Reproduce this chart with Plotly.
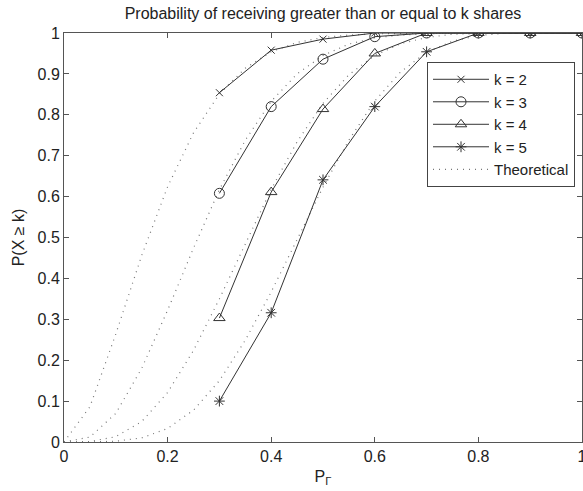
import plotly.graph_objects as go

# Simulated points
x_sim = [0.3, 0.4, 0.5, 0.6, 0.7, 0.8, 0.9, 1.0]
k2_sim = [0.854, 0.958, 0.985, 1.0, 1.0, 1.0, 1.0, 1.0]
k3_sim = [0.608, 0.820, 0.936, 0.991, 1.0, 1.0, 1.0, 1.0]
k4_sim = [0.303, 0.611, 0.814, 0.950, 1.0, 1.0, 1.0, 1.0]
k5_sim = [0.100, 0.316, 0.641, 0.820, 0.954, 1.0, 1.0, 1.0]

# Theoretical curves (dotted)
x_th = [0.0, 0.05, 0.1, 0.15, 0.2, 0.25, 0.3, 0.35, 0.4, 0.45, 0.5,
        0.55, 0.6, 0.65, 0.7, 0.75, 0.8, 0.85, 0.9, 0.95, 1.0]
k2_th = [0.0, 0.086, 0.264, 0.456, 0.624, 0.756, 0.851, 0.914, 0.954, 0.977, 0.989,
         0.995, 0.998, 0.999, 1.0, 1.0, 1.0, 1.0, 1.0, 1.0, 1.0]
k3_th = [0.0, 0.012, 0.070, 0.180, 0.322, 0.474, 0.617, 0.738, 0.833, 0.900, 0.945,
         0.973, 0.988, 0.995, 0.998, 1.0, 1.0, 1.0, 1.0, 1.0, 1.0]
k4_th = [0.0, 0.001, 0.013, 0.050, 0.121, 0.224, 0.350, 0.486, 0.618, 0.734, 0.828,
         0.898, 0.945, 0.974, 0.989, 0.997, 0.999, 1.0, 1.0, 1.0, 1.0]
k5_th = [0.0, 0.0, 0.002, 0.010, 0.033, 0.078, 0.150, 0.249, 0.367, 0.496, 0.623,
         0.738, 0.834, 0.905, 0.953, 0.980, 0.994, 0.999, 1.0, 1.0, 1.0]

labels = ["k = 2", "k = 3", "k = 4", "k = 5"]
x_ticks = [0, 0.2, 0.4, 0.6, 0.8, 1]
x_ticklabels = ["0", "0.2", "0.4", "0.6", "0.8", "1"]
y_ticks = [0, 0.1, 0.2, 0.3, 0.4, 0.5, 0.6, 0.7, 0.8, 0.9, 1]
y_ticklabels = ["0", "0.1", "0.2", "0.3", "0.4", "0.5", "0.6", "0.7", "0.8", "0.9", "1"]

FONT = "Liberation Sans, Arial, sans-serif"
LINE = "#333333"
AX = "#555555"
TXT = "#222222"

fig = go.Figure()

theory = [k2_th, k3_th, k4_th, k5_th]
for i, yv in enumerate(theory):
    fig.add_trace(go.Scatter(
        x=x_th, y=yv, mode="lines", name="Theoretical",
        line=dict(color="#777777", width=1.2, dash="1px,5px"),
        showlegend=(i == 0), legendrank=10,
    ))

sims = [k2_sim, k3_sim, k4_sim, k5_sim]
symbols = ["x-thin-open", "circle-open", "triangle-up-open", "asterisk-open"]
sizes = [7, 10, 10, 9]
for i, (yv, sym, sz) in enumerate(zip(sims, symbols, sizes)):
    fig.add_trace(go.Scatter(
        x=x_sim, y=yv, mode="lines+markers", name=labels[i],
        line=dict(color=LINE, width=1),
        marker=dict(symbol=sym, size=sz, color=LINE, line=dict(color=LINE, width=1)),
        legendrank=i + 1,
    ))

fig.update_layout(
    width=583, height=491,
    margin=dict(l=64, r=1, t=33, b=49, autoexpand=False),
    paper_bgcolor="white", plot_bgcolor="white",
    font=dict(family=FONT, size=16, color=TXT),
    title=dict(text="Probability of receiving greater than or equal to k shares",
               x=(64 + 582) / 2 / 583, xanchor="center", y=1 - 13 / 491, yanchor="middle",
               font=dict(size=16, family=FONT, color=TXT)),
    showlegend=True,
    legend=dict(x=0.9865, xanchor="right", y=0.929, yanchor="top",
                bgcolor="white", bordercolor="#444444", borderwidth=1,
                font=dict(size=15, family=FONT, color=TXT),
                itemwidth=56, traceorder="normal"),
)
fig.update_xaxes(range=[0, 1], tickvals=x_ticks, ticktext=x_ticklabels,
                 showline=True, mirror="ticks", linecolor=AX, linewidth=1,
                 ticks="inside", ticklen=5, tickcolor=AX, ticklabeloverflow="allow",
                 showgrid=False, zeroline=False, automargin=False,
                 title=dict(text="P<sub>Γ</sub>", standoff=6, font=dict(size=16)))
fig.update_yaxes(range=[0, 1], tickvals=y_ticks, ticktext=y_ticklabels,
                 showline=True, mirror="ticks", linecolor=AX, linewidth=1,
                 ticks="inside", ticklen=5, tickcolor=AX,
                 showgrid=False, zeroline=False, automargin=False,
                 title=dict(text="P(X ≥ k)", standoff=8, font=dict(size=16)))

fig.write_html("out.html")
